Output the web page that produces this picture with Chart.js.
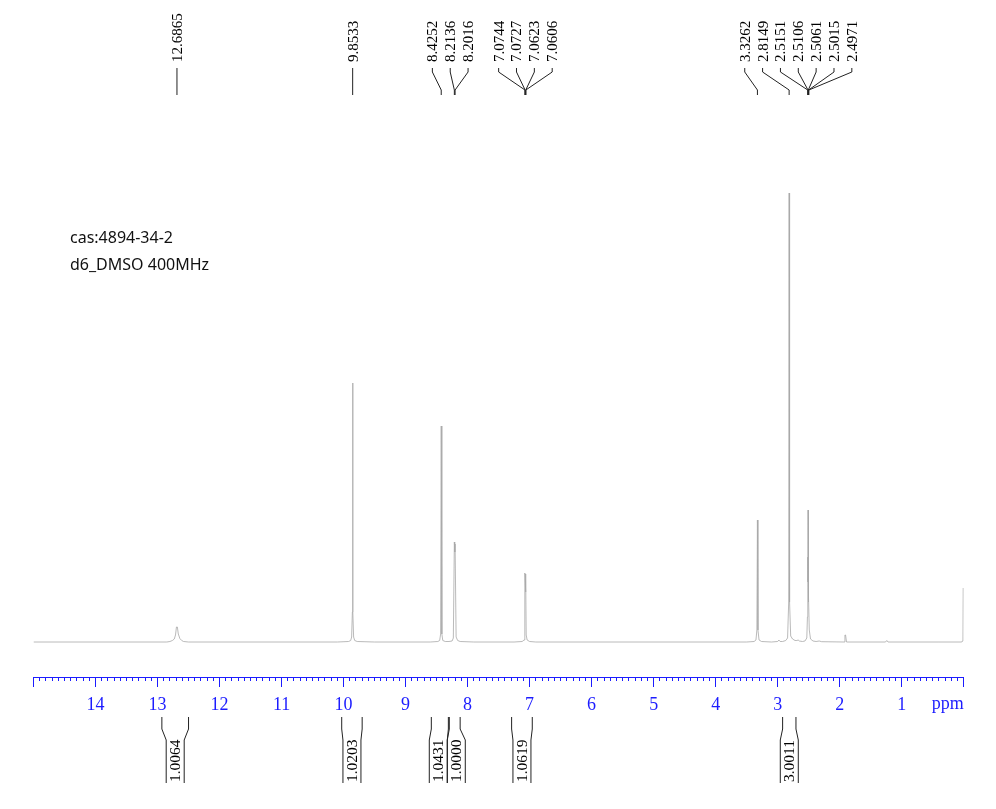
<!DOCTYPE html>
<html>
<head>
<meta charset="utf-8">
<title>cas:4894-34-2</title>
<script src="https://cdn.jsdelivr.net/npm/chart.js@4/dist/chart.umd.js"></script>
<style>
  body { margin: 0; background: #fff; }
  canvas { display: block; }
</style>
</head>
<body>
<canvas id="chart" width="996" height="809"></canvas>
<script>
// spectrum trace
var ppmValues = [
  15.00, 12.85, 12.80, 12.76, 12.73, 12.71, 12.695, 12.68, 12.665, 12.64, 12.61, 12.58, 12.50,
  10.10, 9.92, 9.885, 9.87, 9.858, 9.8533, 9.849, 9.838, 9.82, 9.78, 9.50,
  8.60, 8.48, 8.45, 8.435, 8.4252, 8.415, 8.40, 8.36, 8.30, 8.25, 8.23, 8.2136, 8.207, 8.2016, 8.185, 8.16, 8.12, 7.90,
  7.25, 7.12, 7.09, 7.08, 7.0744, 7.0727, 7.067, 7.0623, 7.0606, 7.055, 7.04, 7.00, 6.90,
  3.50, 3.38, 3.35, 3.335, 3.3262, 3.318, 3.30, 3.26, 3.10,
  3.00, 2.98, 2.96, 2.92, 2.87, 2.84, 2.822, 2.8149, 2.808, 2.79, 2.76, 2.72, 2.69, 2.67, 2.65, 2.60,
  2.56, 2.53, 2.52, 2.5151, 2.513, 2.5106, 2.508, 2.5061, 2.504, 2.5015, 2.499, 2.4971, 2.49, 2.47, 2.43, 2.38, 2.33, 2.29,
  1.93, 1.915, 1.905, 1.89, 1.26, 1.24, 1.22, 0.40, 0.03, 0.02, 0.012, 0.008, 0.004
];
var intensities = [
  0, 0, 0.5, 1.5, 3, 7, 15, 15, 8, 3.5, 1.5, 0.5, 0,
  0, 0.5, 1.5, 5, 30, 259, 30, 5, 1.5, 0.5, 0,
  0, 0.5, 1.5, 8, 216, 8, 1.5, 0.5, 0.5, 1, 4, 100, 90, 98, 5, 1.5, 0.5, 0,
  0, 0.5, 2, 7, 69, 66, 50, 68, 65, 7, 2, 0.5, 0,
  0, 0.5, 2, 12, 122, 12, 2, 0.5, 0,
  0.5, 2, 0.5, 0.5, 1.5, 4, 40, 449, 40, 6, 3, 1.5, 1.5, 2, 1, 0.5,
  1, 4, 25, 85, 60, 132, 70, 128, 68, 88, 40, 45, 12, 3, 1, 0.5, 1, 0.3,
  0, 7, 7, 0, 0, 1.5, 0, 0, 0, 1, 4, 54, 54
];

// picked peaks, grouped the way their labels are fanned out above the trace
var peakGroups = [
  [12.6865],
  [9.8533],
  [8.4252, 8.2136, 8.2016],
  [7.0744, 7.0727, 7.0623, 7.0606],
  [3.3262, 2.8149, 2.5151, 2.5106, 2.5061, 2.5015, 2.4971]
];

// integral regions
var integralStarts = [12.93, 10.03, 8.585, 8.295, 7.29, 2.92];
var integralEnds = [12.50, 9.70, 8.31, 8.12, 6.957, 2.705];
var integralValues = ['1.0064', '1.0203', '1.0431', '1.0000', '1.0619', '3.0011'];

var noteLines = ['cas:4894-34-2', 'd6_DMSO 400MHz'];

var BLUE = '#1c1cff';
var SERIF = '"Liberation Serif", serif';

function rotatedText(ctx, text, x, y) {
  ctx.save();
  ctx.translate(x, y);
  ctx.rotate(-Math.PI / 2);
  ctx.fillText(text, 0, 0);
  ctx.restore();
}

function drawPeakLabels(ctx, xScale) {
  ctx.font = '15px ' + SERIF;
  ctx.fillStyle = '#000';
  ctx.textAlign = 'left';
  ctx.textBaseline = 'middle';
  ctx.strokeStyle = '#222';
  ctx.lineWidth = 1;

  peakGroups.forEach(function(group) {
    var pixels = group.map(function(ppm) { return xScale.getPixelForValue(ppm); });
    var mean = pixels.reduce(function(a, b) { return a + b; }, 0) / pixels.length;
    group.forEach(function(ppm, i) {
      var labelX = mean + (i - (group.length - 1) / 2) * 17.85;
      rotatedText(ctx, ppm.toFixed(4), labelX + 1, 62);
      ctx.beginPath();
      ctx.moveTo(labelX, 68);
      ctx.lineTo(labelX, 72);
      ctx.lineTo(pixels[i], 90);
      ctx.lineTo(pixels[i], 95);
      ctx.stroke();
    });
  });
}

function drawIntegrals(ctx, xScale) {
  var centers = integralValues.map(function(v, i) {
    return (xScale.getPixelForValue(integralStarts[i]) + xScale.getPixelForValue(integralEnds[i])) / 2;
  });
  // the two regions around 8 ppm are too close, push their labels apart
  var mid = (centers[2] + centers[3]) / 2;
  centers[2] = mid - 9;
  centers[3] = mid + 9;

  ctx.font = '15.5px ' + SERIF;
  ctx.fillStyle = '#000';
  ctx.textAlign = 'left';
  ctx.textBaseline = 'middle';
  ctx.strokeStyle = '#222';
  ctx.lineWidth = 1;

  integralValues.forEach(function(value, i) {
    var x1 = xScale.getPixelForValue(integralStarts[i]);
    var x2 = xScale.getPixelForValue(integralEnds[i]);
    ctx.beginPath();
    ctx.moveTo(x1, 717);
    ctx.lineTo(x1, 729);
    ctx.lineTo(centers[i] - 9, 740);
    ctx.lineTo(centers[i] - 9, 783);
    ctx.moveTo(x2, 717);
    ctx.lineTo(x2, 729);
    ctx.lineTo(centers[i] + 9, 740);
    ctx.lineTo(centers[i] + 9, 783);
    ctx.stroke();
    rotatedText(ctx, value, centers[i] + 0.5, 782);
  });
}

var labelsPlugin = {
  id: 'labels',
  afterDraw: function(chart) {
    var ctx = chart.ctx;
    var xScale = chart.scales.x;
    ctx.save();
    drawPeakLabels(ctx, xScale);
    drawIntegrals(ctx, xScale);

    ctx.fillStyle = BLUE;
    ctx.font = '18px ' + SERIF;
    ctx.textAlign = 'right';
    ctx.textBaseline = 'alphabetic';
    ctx.fillText('ppm', xScale.getPixelForValue(0), 709);

    ctx.fillStyle = '#111';
    ctx.font = '16px "Noto Sans"';
    ctx.textAlign = 'left';
    ctx.fillText(noteLines[0], 70, 243);
    ctx.fillText(noteLines[1], 70, 270);
    ctx.restore();
  }
};

var chart = new Chart(document.getElementById('chart'), {
  type: 'line',
  data: {
    labels: ppmValues,
    datasets: [{
      data: intensities,
      borderColor: '#a8a8a8',
      borderWidth: 0.8,
      pointRadius: 0,
      tension: 0,
      fill: false
    }]
  },
  options: {
    responsive: false,
    animation: false,
    layout: { padding: { left: 33.5, right: 32.3, top: 0, bottom: 0 } },
    plugins: { legend: { display: false }, tooltip: { enabled: false } },
    scales: {
      x: {
        type: 'linear',
        position: 'bottom',
        reverse: true,
        min: 0,
        max: 15,
        afterFit: function(scale) {
          scale.height = 132;
          scale.paddingLeft = 0;
          scale.paddingRight = 0;
        },
        border: { color: BLUE, width: 1 },
        grid: { drawOnChartArea: false, color: BLUE, tickColor: BLUE, tickLength: 10 },
        ticks: {
          stepSize: 1,
          autoSkip: false,
          maxRotation: 0,
          padding: 7,
          color: BLUE,
          font: { family: SERIF, size: 18 },
          callback: function(value) {
            return (value === 0 || value === 15) ? '' : value;
          }
        }
      },
      xMinor: {
        type: 'linear',
        axis: 'x',
        position: { y: -35 },
        reverse: true,
        min: 0,
        max: 15,
        border: { display: false },
        grid: { drawOnChartArea: false, color: BLUE, tickColor: BLUE, tickLength: 4 },
        ticks: { stepSize: 0.1, autoSkip: false, display: false }
      },
      y: {
        display: false,
        min: -35,
        max: 642
      }
    }
  },
  plugins: [labelsPlugin]
});
</script>
</body>
</html>
